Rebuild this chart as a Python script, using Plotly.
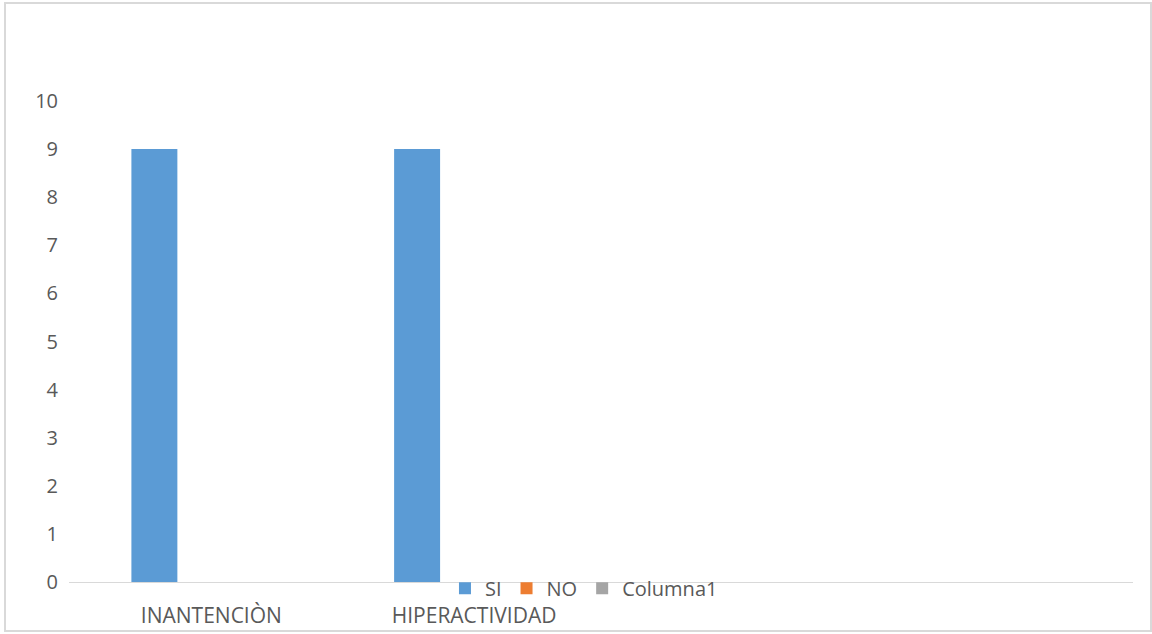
import plotly.graph_objects as go

# Categories and series values
categories = ["INANTENCIÒN", "HIPERACTIVIDAD"]
series_names = ["SI", "NO", "Columna1"]
si_values = [9, 9]
no_values = [0, 0]
columna1_values = [0, 0]
y_ticks = list(range(0, 11))

colors = {"SI": "#5b9bd5", "NO": "#ed7d31", "Columna1": "#a5a5a5"}
values = {"SI": si_values, "NO": no_values, "Columna1": columna1_values}

W, H = 1152, 634
M_L, M_R, M_T, M_B = 69, 19, 101, 52

fig = go.Figure()
for name in series_names:
    fig.add_trace(go.Bar(
        x=categories,
        y=values[name],
        name=name,
        marker=dict(color=colors[name], line=dict(width=0)),
    ))

font_family = "Open Sans, sans-serif"
txt_color = "#595959"

fig.update_layout(
    width=W, height=H,
    margin=dict(l=M_L, r=M_R, t=M_T, b=M_B, pad=0, autoexpand=False),
    paper_bgcolor="white",
    plot_bgcolor="white",
    barmode="group",
    bargap=0.475,
    bargroupgap=0,
    font=dict(family=font_family, size=20, color=txt_color),
    showlegend=True,
    legend=dict(
        orientation="h",
        x=0.484, xanchor="center",
        y=-0.013, yanchor="middle",
        font=dict(family=font_family, size=20, color=txt_color),
        bgcolor="rgba(0,0,0,0)",
        itemwidth=30,
        tracegroupgap=0,
    ),
    xaxis=dict(
        type="category",
        range=[-0.5, 3.55],
        showgrid=False,
        showline=True,
        linecolor="#d9d9d9",
        linewidth=1,
        ticks="",
        tickfont=dict(family=font_family, size=21, color=txt_color),
        ticklabelshift=11,
        ticklabelstandoff=15,
        fixedrange=True,
    ),
    yaxis=dict(
        range=[0, 10],
        tickmode="array",
        tickvals=y_ticks,
        ticktext=[str(v) for v in y_ticks],
        showgrid=False,
        showline=False,
        zeroline=False,
        ticks="",
        tickfont=dict(family=font_family, size=20, color=txt_color),
        ticklabelstandoff=10,
        fixedrange=True,
    ),
)

# Chart border around the whole figure
pw = W - M_L - M_R
ph = H - M_T - M_B
def px_x(v):
    return (v - M_L) / pw
def px_y(v):
    return (H - M_B - v) / ph

fig.add_shape(
    type="rect", xref="paper", yref="paper",
    x0=px_x(5), x1=px_x(1151), y0=px_y(631), y1=px_y(3),
    line=dict(color="#d9d9d9", width=2),
    fillcolor="rgba(0,0,0,0)",
    layer="below",
)

fig.write_html("out.html", config={"displayModeBar": False})
